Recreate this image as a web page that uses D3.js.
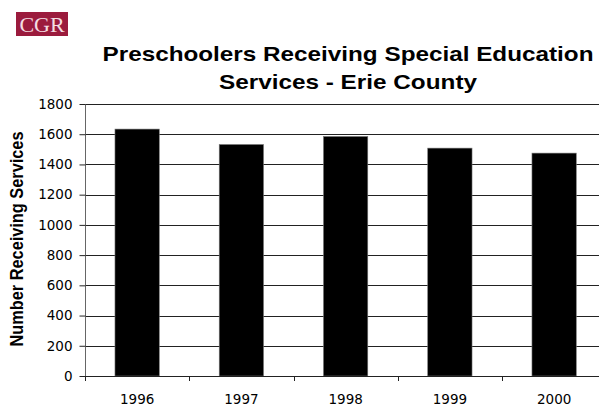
<!DOCTYPE html>
<html>
<head>
<meta charset="utf-8">
<script src="https://cdn.jsdelivr.net/npm/d3@7"></script>
<style>
  html, body { margin: 0; padding: 0; background: #fff; }
  svg { display: block; }
</style>
</head>
<body>
<script>
// ---- data ----
const years = ["1996", "1997", "1998", "1999", "2000"];
const values = [1634, 1532, 1585, 1508, 1475];
const yTicks = [0, 200, 400, 600, 800, 1000, 1200, 1400, 1600, 1800];
const titleLines = ["Preschoolers Receiving Special Education", "Services - Erie County"];
const yTitle = "Number Receiving Services";
const logoText = "CGR";

const W = 599, H = 408;
const svg = d3.select("body").append("svg").attr("width", W).attr("height", H);

const x = d3.scaleBand().domain(years).range([85, 606.25]).padding(0);
const y = d3.scaleLinear().domain([0, 1800]).range([376, 104]);

// logo
svg.append("rect").attr("x", 16).attr("y", 12).attr("width", 52).attr("height", 24).attr("fill", "#9b1b3d");
svg.append("text").attr("x", 42).attr("y", 32.3).attr("text-anchor", "middle")
  .attr("font-family", "Liberation Serif, serif").attr("font-size", 22)
  .attr("fill", "#f3dde2").text(logoText);

// title
const tLens = [491, 258];
const tBase = [61, 89];
titleLines.forEach((t, i) => {
  svg.append("text")
    .attr("x", 348).attr("y", tBase[i]).attr("text-anchor", "middle")
    .attr("font-family", "Liberation Sans, Arial, sans-serif").attr("font-weight", "bold")
    .attr("font-size", 21)
    .attr("textLength", tLens[i]).attr("lengthAdjust", "spacingAndGlyphs")
    .attr("fill", "#000").text(t);
});

// gridlines
svg.append("g").selectAll("line").data(yTicks.filter(d => d > 0)).join("line")
  .attr("x1", 85).attr("x2", W).attr("y1", d => Math.round(y(d)) + 0.5).attr("y2", d => Math.round(y(d)) + 0.5)
  .attr("stroke", "#222").attr("stroke-width", 1);

// bars
svg.append("g").selectAll("rect").data(years).join("rect")
  .attr("x", (d) => x(d) + x.bandwidth() * (1 - 0.425) / 2)
  .attr("width", x.bandwidth() * 0.425)
  .attr("y", (d, i) => y(values[i]))
  .attr("height", (d, i) => y(0) - y(values[i]))
  .attr("fill", "#000").attr("stroke", "#777").attr("stroke-width", 0.6);

// y axis
const yAxis = svg.append("g").attr("transform", "translate(85.5,0)")
  .call(d3.axisLeft(y).tickValues(yTicks).tickSize(6).tickPadding(7).tickFormat(d3.format("d")));
yAxis.select(".domain").attr("stroke", "#666").attr("d", `M0,${y(1800)}V${y(0) + 5}`);
yAxis.selectAll(".tick line").attr("stroke", "#222");
yAxis.selectAll("text").attr("font-family", "DejaVu Sans, Verdana, sans-serif").attr("font-size", 13.5).attr("fill", "#000");

// x axis
const xAxis = svg.append("g").attr("transform", `translate(0,${Math.round(y(0)) + 0.5})`)
  .call(d3.axisBottom(x).tickSize(0).tickPadding(18));
xAxis.select(".domain").attr("stroke", "#222").attr("d", `M85,0H${W}`);
xAxis.selectAll("text").attr("font-family", "DejaVu Sans, Verdana, sans-serif").attr("font-size", 13.5).attr("fill", "#000");
// category boundary ticks
svg.append("g").selectAll("line").data(years).join("line")
  .attr("x1", d => Math.round(x(d)) + 0.5).attr("x2", d => Math.round(x(d)) + 0.5)
  .attr("y1", y(0)).attr("y2", y(0) + 5).attr("stroke", "#222");

// y title
svg.append("text")
  .attr("transform", "translate(23,239) rotate(-90) scale(1,1.16)")
  .attr("text-anchor", "middle")
  .attr("font-family", "Liberation Sans, Arial, sans-serif").attr("font-weight", "bold")
  .attr("font-size", 16).attr("textLength", 215).attr("lengthAdjust", "spacingAndGlyphs")
  .attr("fill", "#000").text(yTitle);
</script>
</body>
</html>
